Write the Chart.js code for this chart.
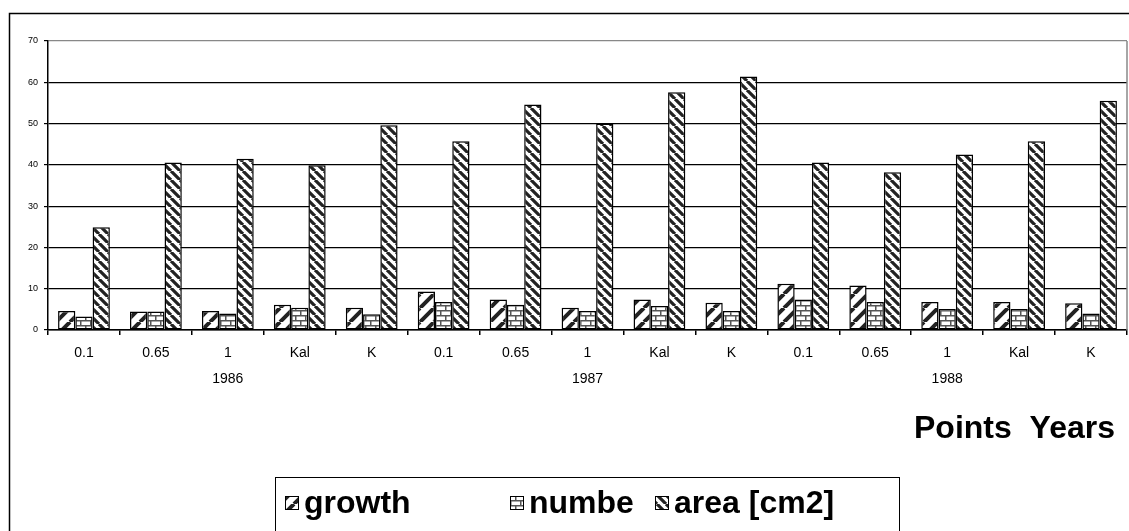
<!DOCTYPE html>
<html>
<head>
<meta charset="utf-8">
<script src="https://cdn.jsdelivr.net/npm/chart.js@4/dist/chart.umd.min.js"></script>
<style>
  html, body { margin: 0; padding: 0; background: #fff; }
  canvas { display: block; }
</style>
</head>
<body>
<canvas id="chart" width="1129" height="531"></canvas>
<script>
var points = ['0.1', '0.65', '1', 'Kal', 'K'];
var years = ['1986', '1987', '1988'];
var growth = [4.6, 4.5, 4.6, 6.1, 5.4, 9.3, 7.4, 5.4, 7.4, 6.6, 11.2, 10.8, 6.8, 6.8, 6.5];
var numbe = [3.3, 4.5, 4.0, 5.4, 3.8, 6.8, 6.1, 4.6, 5.8, 4.6, 7.4, 6.8, 5.1, 5.1, 4.0];
var area = [24.9, 40.6, 41.5, 39.9, 49.6, 45.7, 54.6, 50.0, 57.6, 61.4, 40.6, 38.2, 42.5, 45.7, 55.5];
var yTicks = [0, 10, 20, 30, 40, 50, 60, 70];
var seriesNames = ['growth', 'numbe', 'area [cm2]'];
var axisTitle = 'Points  Years';

var labels = [];
years.forEach(function (y) {
  points.forEach(function (p) {
    labels.push(p === '1' ? [p, y] : [p]);
  });
});

function makePattern(kind) {
  var c = document.createElement('canvas');
  var g = c.getContext('2d');
  var s = kind === 'growth' ? 14 : (kind === 'area' ? 9 : 10);
  c.width = s; c.height = s;
  g.fillStyle = '#fff';
  g.fillRect(0, 0, s, s);
  if (kind === 'brick') {
    g.strokeStyle = '#555';
    g.lineWidth = 1.5;
    g.beginPath();
    g.moveTo(0, 0.75); g.lineTo(s, 0.75);
    g.moveTo(0, 5.75); g.lineTo(s, 5.75);
    g.moveTo(0.75, 0); g.lineTo(0.75, 5.75);
    g.moveTo(5.75, 5.75); g.lineTo(5.75, s);
    g.stroke();
  } else {
    g.strokeStyle = '#222';
    g.lineWidth = kind === 'growth' ? 4 : 3.2;
    g.beginPath();
    [-s, 0, s].forEach(function (o) {
      if (kind === 'growth') { g.moveTo(o, s); g.lineTo(o + s, 0); }
      else { g.moveTo(o, 0); g.lineTo(o + s, s); }
    });
    g.stroke();
  }
  return g.createPattern(c, 'repeat');
}

var fills = [makePattern('growth'), makePattern('brick'), makePattern('area')];

var framePlugin = {
  id: 'frame',
  afterDraw: function (chart) {
    var ctx = chart.ctx, a = chart.chartArea;
    ctx.save();
    // outer chart frame
    ctx.strokeStyle = '#000';
    ctx.lineWidth = 1.5;
    ctx.strokeRect(9.5, 13.5, 1300, 700);
    // plot right border
    ctx.strokeStyle = '#888';
    ctx.lineWidth = 1.5;
    ctx.beginPath();
    ctx.moveTo(a.right, a.top);
    ctx.lineTo(a.right, a.bottom);
    ctx.stroke();
    // axis title
    ctx.fillStyle = '#000';
    ctx.font = 'bold 32px "Liberation Sans", Arial, sans-serif';
    ctx.textAlign = 'right';
    ctx.textBaseline = 'middle';
    ctx.fillText(axisTitle, 1115, 429);
    // legend
    ctx.strokeStyle = '#000';
    ctx.lineWidth = 1;
    ctx.strokeRect(275.5, 477.5, 624, 80);
    var xs = [285, 510, 655];
    ctx.textAlign = 'left';
    chart.data.datasets.forEach(function (ds, i) {
      ctx.fillStyle = ds.backgroundColor;
      ctx.fillRect(xs[i], 496, 14, 14);
      ctx.strokeStyle = '#000';
      ctx.strokeRect(xs[i] + 0.5, 496.5, 13, 13);
      ctx.fillStyle = '#000';
      ctx.fillText(ds.label, xs[i] + 19, 504);
    });
    ctx.restore();
  }
};

new Chart(document.getElementById('chart'), {
  type: 'bar',
  data: {
    labels: labels,
    datasets: [growth, numbe, area].map(function (d, i) {
      return {
        label: seriesNames[i],
        data: d,
        backgroundColor: fills[i],
        borderColor: '#000',
        borderWidth: 1.5,
        borderSkipped: false,
        barPercentage: 1,
        categoryPercentage: 0.72
      };
    })
  },
  options: {
    responsive: false,
    animation: false,
    layout: { padding: { left: 0, top: 41, right: 2, bottom: 0 } },
    plugins: { legend: { display: false }, tooltip: { enabled: false } },
    scales: {
      x: {
        afterFit: function (s) { s.height = 201; },
        border: { color: '#000', width: 1.5 },
        grid: { offset: true, drawOnChartArea: false, tickLength: 5, color: '#000', lineWidth: 1.5 },
        ticks: {
          color: '#000', autoSkip: false, maxRotation: 0, padding: 5,
          font: { family: '"Liberation Sans", Arial, sans-serif', size: 14, lineHeight: 1.85 }
        }
      },
      y: {
        min: 0, max: 70,
        afterFit: function (s) { s.width = 48; },
        afterBuildTicks: function (s) { s.ticks = yTicks.map(function (v) { return { value: v }; }); },
        border: { color: '#000', width: 1.5 },
        grid: {
          tickLength: 4,
          lineWidth: 1.2,
          color: function (c) { return c.tick && c.tick.value === 70 ? '#888' : '#000'; },
          tickColor: '#000'
        },
        ticks: {
          color: '#000', padding: 6,
          font: { family: '"Liberation Sans", Arial, sans-serif', size: 9 }
        }
      }
    }
  },
  plugins: [framePlugin]
});
</script>
</body>
</html>
